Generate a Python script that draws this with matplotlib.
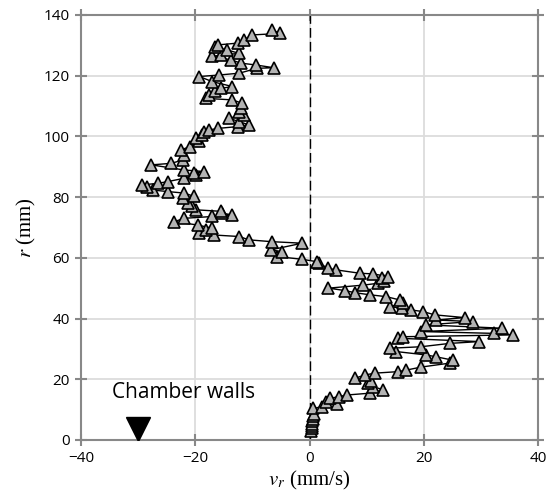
import matplotlib.pyplot as plt

plt.rcParams['mathtext.fontset'] = 'stix'

# radial velocity profile
r = [3.0, 3.8, 4.6, 5.4, 6.2, 7.0, 7.8, 8.6, 10.4, 10.9, 12.0, 12.6, 13.7, 14.3,
     14.8, 15.4, 16.5, 17.6, 18.8, 19.5, 20.3, 21.4, 22.0, 22.5, 23.0, 24.0,
     25.3, 26.3, 27.4, 28.0, 29.1, 30.2, 30.7, 31.8, 32.4, 33.5, 34.0, 34.6,
     35.1, 35.7, 36.8, 37.9, 39.0, 39.5, 40.3, 41.2, 42.3, 42.8, 43.4, 43.9,
     45.0, 46.1, 47.2, 47.8, 48.5, 49.2, 50.0, 51.0, 51.6, 52.4, 53.2, 53.8,
     54.7, 54.9, 56.0, 56.5, 58.2, 58.7, 59.5, 60.4, 62.0, 62.6, 64.8, 65.3,
     65.9, 67.0, 67.5, 68.0, 69.2, 69.7, 70.8, 71.9, 73.0, 73.6, 74.1, 74.7,
     75.3, 75.8, 77.0, 78.0, 79.6, 80.2, 81.3, 81.8, 82.3, 83.2, 84.0, 84.5,
     85.1, 86.2, 87.3, 87.8, 88.4, 88.9, 90.6, 91.1, 92.2, 93.9, 95.5, 96.6,
     98.3, 99.5, 100.5, 101.5, 102.1, 102.6, 103.2, 103.8, 104.8, 106.0, 107.0,
     108.0, 109.3, 110.9, 112.0, 112.5, 113.6, 114.8, 115.8, 116.4, 118.0,
     119.7, 120.2, 120.8, 122.4, 122.6, 123.5, 124.1, 125.2, 126.3, 126.8,
     127.3, 128.5, 129.3, 130.1, 130.7, 131.8, 133.4, 133.9, 135.0]
vr = [0.3, 0.4, 0.4, 0.5, 0.5, 0.6, 0.6, 0.8, 0.6, 2.1, 4.8, 2.9, 3.6, 5.2,
      6.5, 10.5, 12.9, 11.1, 10.3, 10.8, 7.9, 9.7, 11.4, 15.5, 16.9, 19.5,
      24.5, 25.0, 22.1, 20.4, 15.2, 14.0, 19.5, 24.5, 29.7, 15.5, 16.3, 35.5,
      32.3, 19.5, 33.7, 20.4, 28.5, 22.1, 27.1, 21.9, 19.8, 17.8, 16.1, 14.0,
      16.3, 15.8, 13.4, 10.6, 7.9, 6.2, 3.3, 9.4, 12.0, 13.0, 12.6, 13.7,
      11.1, 8.8, 4.7, 3.3, 1.6, 1.3, -1.3, -5.7, -4.8, -6.8, -1.3, -6.6,
      -10.6, -12.3, -16.7, -19.3, -18.1, -17.0, -19.6, -23.7, -21.9, -17.0, -13.5, -15.3,
      -15.5, -19.9, -20.5, -21.3, -22.2, -20.2, -21.9, -24.8, -27.4, -28.5, -29.4, -26.6,
      -24.8, -21.9, -19.9, -20.2, -18.4, -21.9, -27.7, -24.2, -22.2, -21.9, -22.5, -21.0,
      -19.3, -19.8, -18.8, -18.4, -17.6, -16.1, -12.6, -10.6, -12.3, -14.1, -11.5,
      -12.4, -12.0, -11.8, -13.5, -18.1, -17.6, -16.5, -15.5, -13.5, -17.0,
      -19.3, -15.8, -12.3, -9.2, -6.3, -9.4, -12.0, -13.8, -17.0, -15.5,
      -12.3, -14.5, -16.5, -16.1, -12.6, -11.5, -10.0, -5.1, -6.6]

wall_x = [-30]
wall_r = [3.5]

fig = plt.figure(figsize=(5.47, 4.96), dpi=100)
ax = fig.add_axes([0.148, 0.113, 0.836, 0.857])

ax.plot(vr, r, '-', color='black', lw=1.0, marker='^', markersize=8.5,
        markerfacecolor='#b3b3b3', markeredgecolor='black', markeredgewidth=1.2, zorder=3)
ax.axvline(0, color='black', lw=1.0, ls=(0, (7, 3)), zorder=2)
ax.plot(wall_x, wall_r, 'v', color='black', markersize=17, zorder=4)
ax.text(-22, 15.5, 'Chamber walls', fontsize=15, family='Open Sans', ha='center', va='center')

ax.set_xlim(-40, 40)
ax.set_ylim(0, 140)
ax.set_xticks([-40, -20, 0, 20, 40])
ax.set_yticks(range(0, 141, 20))
ax.grid(True, color='#dcdcdc', lw=1.3)
ax.set_axisbelow(True)
for s in ax.spines.values():
    s.set_color('#888888')
    s.set_linewidth(1.5)
ax.tick_params(direction='inout', length=9, width=1.5, color='#888888',
               top=True, right=True, labelsize=11)
for lab in ax.get_xticklabels() + ax.get_yticklabels():
    lab.set_family('Open Sans')

ax.set_xlabel(r'$v_r$ (mm/s)', fontsize=15, family='Liberation Serif', labelpad=2)
ax.set_ylabel(r'$r$ (mm)', fontsize=15, family='Liberation Serif', labelpad=4)

fig.savefig('out.png')
